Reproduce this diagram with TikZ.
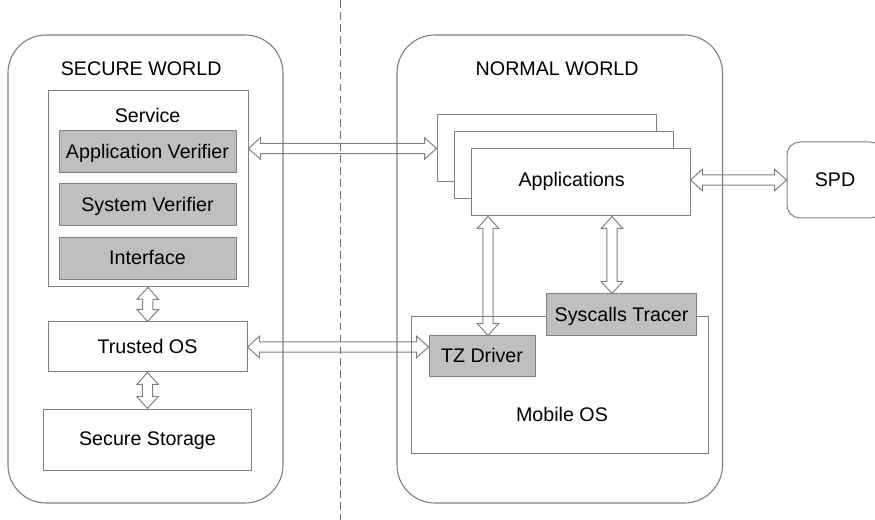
\documentclass[tikz,border=0pt]{standalone}
\usepackage{fontspec}
\setmainfont{Liberation Sans}
\usepackage{tikz}
\usetikzlibrary{shapes,arrows,positioning,calc}

\definecolor{edgegray}{RGB}{128,128,128}
\definecolor{boxgray}{RGB}{191,191,191}
\definecolor{divgray}{RGB}{110,110,110}

% hollow double-headed block arrow from #1 to #2
\newcommand{\fatarrow}[2]{%
  \path (#1) coordinate (fa-s) (#2) coordinate (fa-t);
  \path ($(fa-s)!0.3cm!(fa-t)$) coordinate (fa-a)
        ($(fa-t)!0.3cm!(fa-s)$) coordinate (fa-b);
  \draw[blockarrow] (fa-s)
    -- ($(fa-a)!0.27cm!90:(fa-s)$) -- ($(fa-a)!0.13cm!90:(fa-s)$)
    -- ($(fa-b)!0.13cm!-90:(fa-t)$) -- ($(fa-b)!0.27cm!-90:(fa-t)$)
    -- (fa-t)
    -- ($(fa-b)!0.27cm!90:(fa-t)$) -- ($(fa-b)!0.13cm!90:(fa-t)$)
    -- ($(fa-a)!0.13cm!-90:(fa-s)$) -- ($(fa-a)!0.27cm!-90:(fa-s)$)
    -- cycle;
}

\begin{document}
\begin{tikzpicture}[
    world/.style = {rectangle, draw=edgegray, rounded corners=0.95cm, line width=0.8pt, minimum height=11.7cm, inner sep=0pt},
    txt/.style = {inner sep=0pt, text height=11pt, text depth=2.2pt, font=\fontsize{14}{17}\selectfont},
    box/.style = {rectangle, draw=edgegray, fill=white, line width=0.7pt, inner sep=0pt, text height=11pt, text depth=2.2pt, font=\fontsize{14}{17}\selectfont},
    graybox/.style = {box, fill=boxgray},
    blockarrow/.style = {draw=edgegray, line width=0.7pt, line join=miter}
]
    \useasboundingbox (0,0) rectangle (21.875,13);

    % Divider between the two worlds
    \coordinate (divtop) at (8.5,13);
    \coordinate (divbot) at (8.5,0);
    \draw[divgray, line width=0.7pt, dash pattern=on 5.5pt off 3pt] (divtop) -- (divbot);

    % World containers
    \node[world, minimum width=6.875cm] (secworld) at (3.6375,6.275) {};
    \node[world, minimum width=8.1375cm] (normworld) at (13.994,6.275) {};
    \node[txt] (title1) at (3.53,11.27) {SECURE WORLD};
    \node[txt] (title2) at (13.93,11.27) {NORMAL WORLD};

    % Secure world: service and its parts
    \node[box, minimum width=5cm, minimum height=4.91cm] (service) at (3.7,8.285) {};
    \node[txt] (servl) at (3.69,10.08) {Service};
    \node[graybox, minimum width=4.425cm, minimum height=1.05cm] (appver) at (3.6875,9.2) {Application Verifier};
    \node[graybox, minimum width=4.425cm, minimum height=1.05cm] (sysver) at (3.6875,7.875) {System Verifier};
    \node[graybox, minimum width=4.425cm, minimum height=1.05cm] (iface) at (3.6875,6.5375) {Interface};

    % Secure world: OS and storage
    \node[box, minimum width=4.975cm, minimum height=1.25cm] (trustos) at (3.6875,4.325) {Trusted OS};
    \node[box, minimum width=5.21cm, minimum height=1.525cm] (secstore) at (3.6875,2.0125) {Secure Storage};

    % Normal world: stacked applications
    \node[box, minimum width=5.475cm, minimum height=1.675cm] (app1) at (13.6625,9.2875) {};
    \node[box, minimum width=5.475cm, minimum height=1.675cm] (app2) at ($(app1)+(0.425,-0.425)$) {};
    \node[box, minimum width=5.475cm, minimum height=1.675cm] (app3) at ($(app2)+(0.425,-0.425)$) {};
    \node[txt] (appl) at (14.29,8.5) {Applications};

    % SPD (cut off at the right edge)
    \node[box, rounded corners=0.32cm, minimum width=2.4cm, minimum height=1.9cm] (spd) at (20.875,8.5) {SPD};

    % Normal world: mobile OS
    \node[box, minimum width=7.43cm, minimum height=3.43cm] (mobos) at (14.008,3.384) {};
    \node[txt] (mobl) at (14.05,2.625) {Mobile OS};
    \node[graybox, minimum width=3.75cm, minimum height=1.05cm] (sctr) at (15.54,5.125) {Syscalls Tracer};
    \node[graybox, minimum width=2.65cm, minimum height=1.025cm] (tzdrv) at (12.05,4.0875) {TZ Driver};

    % Arrows inside the secure world
    \fatarrow{service.south}{trustos.north}
    \fatarrow{trustos.south}{secstore.north}

    % Arrows across the worlds
    \fatarrow{service.east |- app1.west}{app1.west}
    \fatarrow{trustos.east}{tzdrv.west |- trustos.east}

    % Arrows inside the normal world
    \coordinate (tzin) at ([xshift=0.15cm]tzdrv.north);
    \fatarrow{app3.south -| tzin}{tzin}
    \coordinate (scin) at ([xshift=-0.24cm]sctr.north);
    \fatarrow{app3.south -| scin}{scin}
    \fatarrow{app3.east |- spd.west}{spd.west}

\end{tikzpicture}
\end{document}
